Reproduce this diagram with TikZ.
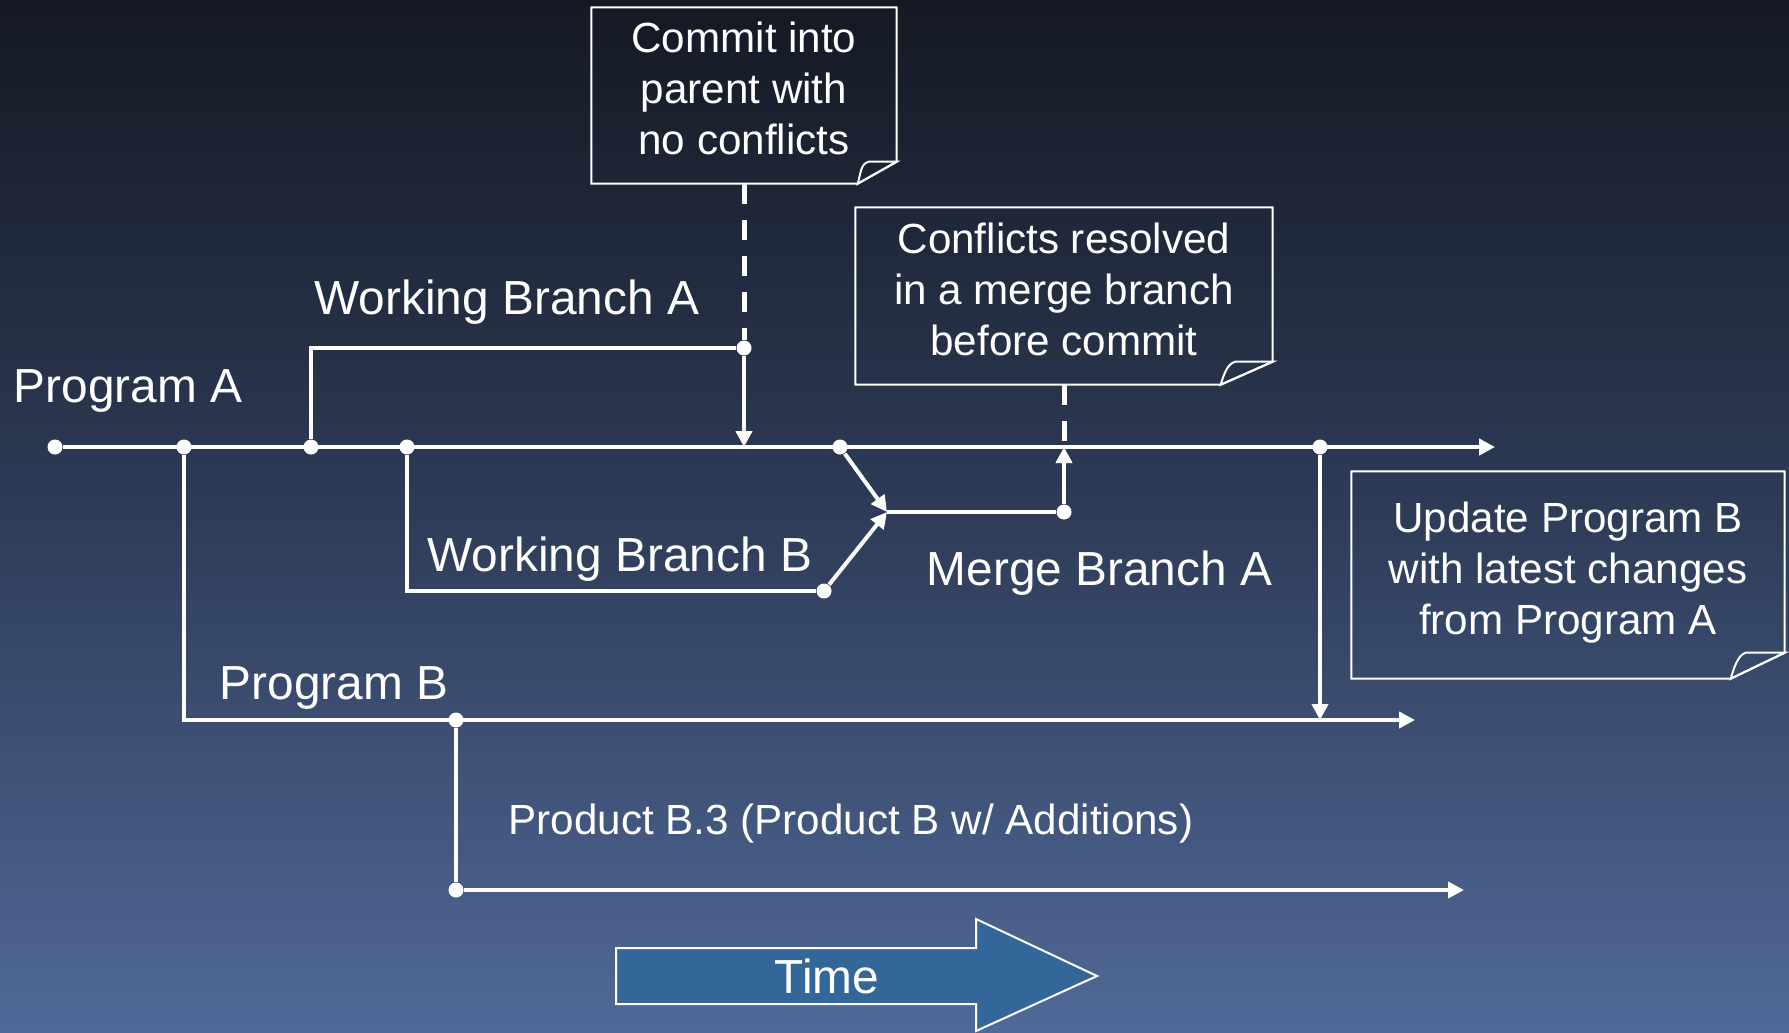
\documentclass[tikz,border=0pt]{standalone}
\usepackage{fontspec}
\setmainfont{Liberation Sans}
\usepackage{tikz}
\usetikzlibrary{arrows.meta,calc}
\definecolor{slidetop}{RGB}{20,25,35}
\definecolor{slidemid}{RGB}{46,60,88}
\definecolor{slidebottom}{RGB}{80,105,152}
\definecolor{timeblue}{RGB}{51,102,153}
\newcommand{\notefold}[3]{%
  \draw[notefold] (#1.north west) -- (#1.north east) -- ($(#1.south east)+(0,#3)$)
    -- ($(#1.south east)+(-#2,0)$) -- (#1.south west) -- cycle;
  \draw[notefold] ($(#1.south east)+(-#2,0)$) .. controls +(0.03,0.1) and +(-0.08,-0.02) .. ($(#1.south east)+(-0.72*#2,#3)$)
    -- ($(#1.south east)+(0,#3)$) -- cycle;}

\begin{document}
\begin{tikzpicture}[
  branch/.style={white, line width=0.04cm},
  flow/.style={branch, -{Triangle[length=0.16cm,width=0.16cm]}},
  commitline/.style={white, line width=0.05cm, dash pattern=on 0.2cm off 0.16cm},
  dot/.style={circle, fill=white, inner sep=0pt, minimum size=0.15cm},
  branchname/.style={text=white, inner sep=0pt, anchor=base west, font=\fontsize{13.6}{16}\selectfont},
  notebox/.style={text=white, align=center, inner sep=0pt, text depth=0.14cm, font=\fontsize{12}{14.5}\selectfont},
  notefold/.style={white, line width=0.02cm, line join=miter}]
  \useasboundingbox (0,0) rectangle (17.89,10.32);
  \shade[top color=slidetop, bottom color=slidebottom, middle color=slidemid] (0,0) rectangle (17.89,10.32);

  \node[notebox, minimum width=3.04cm, minimum height=1.75cm] (commit) at (7.44,9.365) {Commit into\\parent with\\no conflicts};
  \notefold{commit}{0.39}{0.22}
  \node[notebox, minimum width=4.16cm, minimum height=1.76cm] (conflict) at (10.64,7.36) {Conflicts resolved\\in a merge branch\\before commit};
  \notefold{conflict}{0.52}{0.23}
  \node[notebox, minimum width=4.32cm, minimum height=2.06cm] (update) at (15.68,4.57) {Update Program B\\with latest changes\\from Program A};
  \notefold{update}{0.54}{0.26}

  \node[dot] (a0) at (0.55,5.85) {};
  \node[dot] (b0) at (1.84,5.85) {};
  \node[dot] (wa0) at (3.11,5.85) {};
  \node[dot] (wb0) at (4.07,5.85) {};
  \node[dot] (mg0) at (8.40,5.85) {};
  \node[dot] (up0) at (13.20,5.85) {};
  \coordinate (aend) at (14.95,5.85);
  \node[dot] (wa1) at (7.44,6.84) {};
  \node[dot] (wb1) at (8.24,4.41) {};
  \coordinate (mgp) at (8.87,5.20);
  \node[dot] (mg1) at (10.64,5.20) {};
  \node[dot] (pd0) at (4.56,3.12) {};
  \coordinate (bend) at (14.15,3.12);
  \node[dot] (pd1) at (4.56,1.42) {};
  \coordinate (dend) at (14.64,1.42);

  \draw[flow] (a0) -- (aend);
  \draw[branch] (wa0) |- (wa1);
  \draw[flow] (wa1) -- (wa1 |- a0);
  \draw[commitline] (commit.south) -- (wa1);
  \draw[branch] (wb0) |- (wb1);
  \draw[flow] (mg0) -- (mgp);
  \draw[flow] (wb1) -- (mgp);
  \draw[branch] (mgp) -- (mg1);
  \draw[flow] (mg1) -- (mg1 |- a0);
  \draw[commitline] (conflict.south) -- (mg1 |- a0);
  \draw[flow] (b0) |- (bend);
  \draw[flow] (up0) -- (up0 |- bend);
  \draw[branch] (pd0) -- (pd1);
  \draw[flow] (pd1) -- (dend);

  \node[branchname] (pal) at (0.13,6.30) {Program A};
  \node[branchname] (wal) at (3.14,7.18) {Working Branch A};
  \node[branchname] (wbl) at (4.27,4.61) {Working Branch B};
  \node[branchname] (mgl) at (9.26,4.47) {Merge Branch A};
  \node[branchname] (pbl) at (2.19,3.33) {Program B};
  \node[branchname, font=\fontsize{12}{14.5}\selectfont] (pdl) at (5.08,1.98) {Product B.3 (Product B w/ Additions)};

  \draw[white, line width=0.02cm, fill=timeblue] (6.16,0.84) -- (9.76,0.84) -- (9.76,1.13) -- (10.97,0.56)
    -- (9.76,0.01) -- (9.76,0.28) -- (6.16,0.28) -- cycle;
  \node[branchname, anchor=base] (time) at (8.27,0.39) {Time};
\end{tikzpicture}
\end{document}
